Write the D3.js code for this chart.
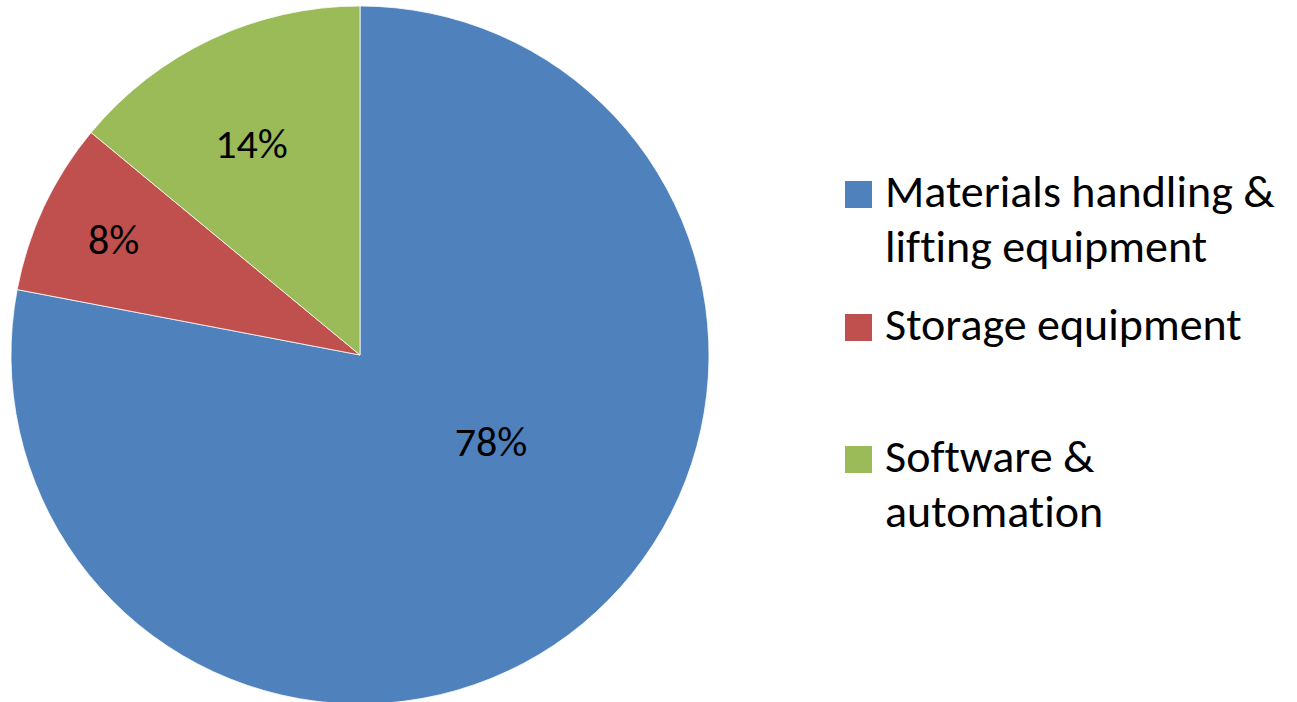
<!DOCTYPE html>
<html>
<head>
<meta charset="utf-8">
<script src="https://cdn.jsdelivr.net/npm/d3@7"></script>
<style>
  body { margin: 0; background: #fff; }
  svg { display: block; }
  text { font-family: Carlito, Lato, "Open Sans", sans-serif; fill: #000; font-variant-ligatures: none; font-feature-settings: "liga" 0, "clig" 0; }
</style>
</head>
<body>
<div id="viz-container"></div>
<script>
let width = 1297;
let height = 702;

// data
let categories = ['Materials handling & lifting equipment', 'Storage equipment', 'Software & automation'];
let legendLines = [['Materials handling &', 'lifting equipment'], ['Storage equipment'], ['Software &', 'automation']];
let shares = [78, 8, 14];
let colors = ['#4F81BD', '#C0504D', '#9BBB59'];

// layout tweaks for where Excel puts the labels
let labelRadiusFactor = [0.45, 0.78, 0.68];
let labelAngleShift = [-17, 0, -2]; // degrees

let cx = 360, cy = 355, radius = 349;

let viz = d3.select('#viz-container')
  .append('svg')
  .attr('width', width)
  .attr('height', height);

let pie = d3.pie().sort(null).value(d => d);
let arcs = pie(shares);

let arc = d3.arc().innerRadius(0).outerRadius(radius);

let pieGroup = viz.append('g')
  .attr('transform', 'translate(' + cx + ',' + cy + ')');

pieGroup.selectAll('.slice').data(arcs).enter()
  .append('path')
  .attr('class', 'slice')
  .attr('d', arc)
  .attr('fill', (d, i) => colors[i])
  .attr('stroke', '#fff')
  .attr('stroke-width', 0.75);

pieGroup.selectAll('.pctText').data(arcs).enter()
  .append('text')
  .attr('class', 'pctText')
  .text(d => d.data + '%')
  .attr('x', function(d, i) {
    let a = (d.startAngle + d.endAngle) / 2 + labelAngleShift[i] * Math.PI / 180;
    return Math.sin(a) * radius * labelRadiusFactor[i];
  })
  .attr('y', function(d, i) {
    let a = (d.startAngle + d.endAngle) / 2 + labelAngleShift[i] * Math.PI / 180;
    return -Math.cos(a) * radius * labelRadiusFactor[i];
  })
  .attr('text-anchor', 'middle')
  .attr('dominant-baseline', 'central')
  .attr('font-size', 42);

// legend rows (storage row sits a bit above the middle)
let legendBase = [207, 340, 472];

let legend = viz.selectAll('.legendItem').data(categories).enter()
  .append('g')
  .attr('class', 'legendItem')
  .attr('transform', (d, i) => 'translate(845,' + legendBase[i] + ')');

legend.append('rect')
  .attr('x', 0)
  .attr('y', -26)
  .attr('width', 27)
  .attr('height', 27)
  .attr('fill', (d, i) => colors[i]);

legend.append('text')
  .attr('x', 40)
  .attr('y', 0)
  .attr('font-size', 46)
  .selectAll('tspan').data((d, i) => legendLines[i]).enter()
  .append('tspan')
  .attr('x', 40)
  .attr('dy', (d, j) => j === 0 ? 0 : 55)
  .text(d => d);
</script>
</body>
</html>
